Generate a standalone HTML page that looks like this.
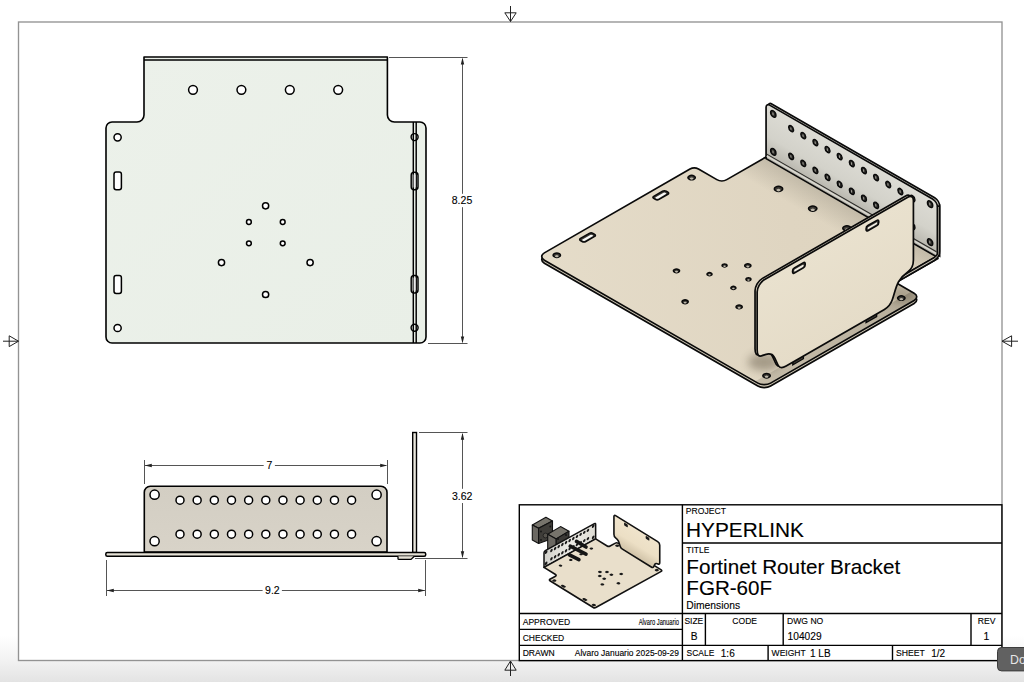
<!DOCTYPE html><html><head><meta charset="utf-8"><style>
html,body{margin:0;padding:0;width:1024px;height:682px;overflow:hidden;background:#fff}
svg{position:absolute;left:0;top:0;display:block}
text{font-family:"Liberation Sans",sans-serif;fill:#000;stroke:#000;stroke-width:0.12px}
.k{fill:none;stroke:#111;stroke-width:1.4;stroke-linejoin:round}
.ns{vector-effect:non-scaling-stroke}
</style></head><body>
<svg width="1024" height="682" viewBox="0 0 1024 682">
<defs>
<linearGradient id="bot" x1="0" y1="0" x2="0" y2="1"><stop offset="0" stop-color="#fff"/><stop offset="0.5" stop-color="#f3f3f3"/><stop offset="1" stop-color="#e3e3e3"/></linearGradient>
<linearGradient id="plan" x1="0" y1="0" x2="1" y2="1"><stop offset="0" stop-color="#ecf1ea"/><stop offset="1" stop-color="#e9efe7"/></linearGradient>
<linearGradient id="elev" x1="0" y1="0" x2="0" y2="1"><stop offset="0" stop-color="#d3cec3"/><stop offset="1" stop-color="#d8d3c8"/></linearGradient>
<linearGradient id="isob" x1="0" y1="1" x2="1" y2="0"><stop offset="0" stop-color="#e5dcc9"/><stop offset="0.6" stop-color="#dfd5c1"/><stop offset="1" stop-color="#ddd3be"/></linearGradient>
<linearGradient id="isof" x1="0" y1="1" x2="0" y2="0"><stop offset="0" stop-color="#c9c7bd"/><stop offset="0.35" stop-color="#dcdad2"/><stop offset="1" stop-color="#e6e5de"/></linearGradient>
<linearGradient id="isop" x1="0" y1="0" x2="1" y2="0"><stop offset="0" stop-color="#ece3d0"/><stop offset="1" stop-color="#eee5d3"/></linearGradient>
<filter id="blur" x="-50%" y="-50%" width="200%" height="200%"><feGaussianBlur stdDeviation="6"/></filter><filter id="blur3" x="-50%" y="-50%" width="200%" height="200%"><feGaussianBlur stdDeviation="3"/></filter>
<linearGradient id="tfl" x1="0" y1="0" x2="1" y2="0"><stop offset="0" stop-color="#d2d1cb"/><stop offset="0.5" stop-color="#ecebe6"/><stop offset="1" stop-color="#dedcd4"/></linearGradient>
<linearGradient id="tpn" gradientUnits="userSpaceOnUse" x1="0" y1="121" x2="0" y2="0"><stop offset="0" stop-color="#f0e4cc"/><stop offset="0.55" stop-color="#ecdfc5"/><stop offset="1" stop-color="#cfc1a6"/></linearGradient>
</defs>
<rect x="0" y="636" width="1024" height="46" fill="url(#bot)"/>
<rect x="18.5" y="22" width="983.5" height="638.5" fill="#fff"/>
<rect x="18.5" y="22" width="983.5" height="638.5" fill="none" stroke="#939393" stroke-width="1.35"/>
<g fill="none" stroke="#222" stroke-width="1">
<path d="M510.5,6 V21.5 M504.8,12.8 L516.2,12.8 L510.5,21.5 Z"/>
<path d="M3,341.2 H18.5 M9.2,335.8 V346.6 L18.5,341.2 Z"/>
<path d="M1018,341.2 H1002 M1011.6,335.8 V346.6 L1002,341.2 Z"/>
<path d="M510.5,676 V661 M504.8,670.2 L516.2,670.2 L510.5,661 Z"/>
</g>
<path d="M144,57 L387.4,57 L387.4,115 A7,7 0 0 0 394.4,122 L420,122 A6,6 0 0 1 426,128 L426,337 A6,6 0 0 1 420,343 L112,343 A6,6 0 0 1 106,337 L106,128 A6,6 0 0 1 112,122 L137,122 A7,7 0 0 0 144,115 Z" fill="url(#plan)" stroke="#000" stroke-width="1.6" stroke-linejoin="round"/>
<path d="M144,60 H387.4" stroke="#000" stroke-width="1.3"/>
<path d="M413.3,122 V343 M416.2,122 V343" stroke="#000" stroke-width="1.45"/>
<g fill="#fff" stroke="#000" stroke-width="1.5">
<circle cx="193" cy="89.8" r="4.4"/>
<circle cx="241.4" cy="89.8" r="4.4"/>
<circle cx="289.8" cy="89.8" r="4.4"/>
<circle cx="338.2" cy="89.8" r="4.4"/>
<circle cx="117.6" cy="137.3" r="3.6"/>
<circle cx="117.6" cy="328" r="3.6"/>
<circle cx="265.6" cy="205.8" r="3.1"/>
<circle cx="221.5" cy="262.6" r="3.1"/>
<circle cx="310.1" cy="262.6" r="3.1"/>
<circle cx="265.6" cy="294.5" r="3.1"/>
<circle cx="248.9" cy="222" r="2.4"/>
<circle cx="282.7" cy="222" r="2.4"/>
<circle cx="248.9" cy="243.3" r="2.4"/>
<circle cx="282.7" cy="243.3" r="2.4"/>
<rect x="114" y="172" width="7.4" height="17.8" rx="2.2"/>
<rect x="114" y="275.6" width="7.4" height="17.8" rx="2.2"/>
</g>
<g fill="none" stroke="#000" stroke-width="1.45">
<ellipse cx="414.6" cy="137.1" rx="3.5" ry="3.5"/>
<ellipse cx="414.6" cy="327.7" rx="3.5" ry="3.5"/>
<rect x="411.2" y="172.3" width="6.8" height="17.5" rx="3"/>
<rect x="411.2" y="275.4" width="6.8" height="17.5" rx="3"/>
</g>
<g fill="#ececec" stroke="none">
<rect x="413.6" y="174.5" width="2" height="13" />
<rect x="413.6" y="277.6" width="2" height="13" />
</g>
<g stroke="#555" stroke-width="1" fill="none">
<path d="M389,57.5 H467.5 M428,343.5 H467.5 M462.5,59 V193.8 M462.5,207.2 V341.5"/>
</g>
<path d="M462.5,57.5 L460.8,64.5 L464.2,64.5 Z M462.5,343.5 L460.8,336.5 L464.2,336.5 Z" fill="#222"/>
<text x="462" y="204" font-size="10.5" text-anchor="middle">8.25</text>
<path d="M144.3,552 L144.3,492.3 A6,6 0 0 1 150.3,486.3 L381,486.3 A6,6 0 0 1 387,492.3 L387,552 Z" fill="url(#elev)" stroke="#000" stroke-width="1.6" stroke-linejoin="round"/>
<g fill="#fff" stroke="#000" stroke-width="1.5">
<circle cx="180" cy="500.2" r="4"/>
<circle cx="180" cy="534.2" r="4"/>
<circle cx="197.16" cy="500.2" r="4"/>
<circle cx="197.16" cy="534.2" r="4"/>
<circle cx="214.32" cy="500.2" r="4"/>
<circle cx="214.32" cy="534.2" r="4"/>
<circle cx="231.48" cy="500.2" r="4"/>
<circle cx="231.48" cy="534.2" r="4"/>
<circle cx="248.64" cy="500.2" r="4"/>
<circle cx="248.64" cy="534.2" r="4"/>
<circle cx="265.8" cy="500.2" r="4"/>
<circle cx="265.8" cy="534.2" r="4"/>
<circle cx="282.96" cy="500.2" r="4"/>
<circle cx="282.96" cy="534.2" r="4"/>
<circle cx="300.12" cy="500.2" r="4"/>
<circle cx="300.12" cy="534.2" r="4"/>
<circle cx="317.28" cy="500.2" r="4"/>
<circle cx="317.28" cy="534.2" r="4"/>
<circle cx="334.44" cy="500.2" r="4"/>
<circle cx="334.44" cy="534.2" r="4"/>
<circle cx="351.6" cy="500.2" r="4"/>
<circle cx="351.6" cy="534.2" r="4"/>
<circle cx="154.6" cy="494.7" r="4.6"/>
<circle cx="154.6" cy="541.2" r="4.6"/>
<circle cx="376.6" cy="494.7" r="4.6"/>
<circle cx="376.6" cy="541.2" r="4.6"/>
</g>
<rect x="412.7" y="432.5" width="3.8" height="120" fill="#e9e6dc" stroke="#000" stroke-width="1.4"/>
<path d="M105.8,554.1 A1.5,1.5 0 0 1 107.3,552.6 L424.2,552.6 A1.5,1.5 0 0 1 425.7,554.1 L425.7,554.8 A1.5,1.5 0 0 1 424.2,556.3 L107.3,556.3 A1.5,1.5 0 0 1 105.8,554.8 Z" fill="#e6e2d6" stroke="#000" stroke-width="1.5"/>
<path d="M398,556.3 V558.8 Q398,559.4 399,559.4 H411 L414.4,556.3" fill="#e6e2d6" stroke="#000" stroke-width="1.3"/>
<g stroke="#555" stroke-width="1" fill="none">
<path d="M144.5,460 V484 M387.5,460 V484 M145,465.5 H263.7 M274.9,465.5 H386.3"/>
<path d="M106.5,560 V596 M425.5,560 V596 M106.5,590.5 H262.6 M281.9,590.5 H424.9"/>
<path d="M419,432.5 H467.5 M415,558.5 H467.5 M462.5,434 V488.8 M462.5,503 V557"/>
</g>
<path d="M144.8,465.5 L151.8,463.8 L151.8,467.2 Z M387.2,465.5 L380.2,463.8 L380.2,467.2 Z M106.8,590.5 L113.8,588.8 L113.8,592.2 Z M425.2,590.5 L418.2,588.8 L418.2,592.2 Z M462.5,432.7 L460.8,439.7 L464.2,439.7 Z M462.5,558.3 L460.8,551.3 L464.2,551.3 Z" fill="#222"/>
<text x="269.4" y="469.4" font-size="10.5" text-anchor="middle">7</text>
<text x="272.4" y="594.4" font-size="10.5" text-anchor="middle">9.2</text>
<text x="462.1" y="499.8" font-size="10.5" text-anchor="middle">3.62</text>
<defs>
<clipPath id="cpl"><path transform="matrix(0.70700,0.40700,-0.70700,0.40700,705.55000,73.80000)" d="M145,59.4 L387.5,59.4 L387.5,115 A7,7 0 0 0 394.5,122 L417,122 A9,9 0 0 1 426,131 L426,334 A9,9 0 0 1 417,343 L115,343 A9,9 0 0 1 106,334 L106,128 A6,6 0 0 1 112,122 L138,122 A7,7 0 0 0 145,115 Z"/></clipPath>
<linearGradient id="bend" gradientUnits="userSpaceOnUse" x1="0" y1="59.4" x2="0" y2="100"><stop offset="0" stop-color="#a9a292" stop-opacity="0.55"/><stop offset="1" stop-color="#a9a292" stop-opacity="0"/></linearGradient>
<linearGradient id="strip" gradientUnits="userSpaceOnUse" x1="0" y1="122" x2="0" y2="343"><stop offset="0" stop-color="#8e8675" stop-opacity="0.6"/><stop offset="0.2" stop-color="#8e8675" stop-opacity="0.45"/><stop offset="1" stop-color="#8e8675" stop-opacity="0.32"/></linearGradient>
<linearGradient id="flg" gradientUnits="userSpaceOnUse" x1="0" y1="66" x2="0" y2="0"><stop offset="0" stop-color="#dddcd5"/><stop offset="0.6" stop-color="#d3d2ca"/><stop offset="1" stop-color="#b6b4ab"/></linearGradient>
<linearGradient id="pnl" gradientUnits="userSpaceOnUse" x1="0" y1="121" x2="0" y2="0"><stop offset="0" stop-color="#e9e1ce"/><stop offset="1" stop-color="#e5dcc8"/></linearGradient>
<filter id="bl4" x="-50%" y="-50%" width="200%" height="200%"><feGaussianBlur stdDeviation="4"/></filter>
</defs>
<g transform="matrix(0.70700,0.40700,-0.70700,0.40700,705.55000,76.73940)"><path d="M145,59.4 L387.5,59.4 L387.5,115 A7,7 0 0 0 394.5,122 L417,122 A9,9 0 0 1 426,131 L426,334 A9,9 0 0 1 417,343 L115,343 A9,9 0 0 1 106,334 L106,128 A6,6 0 0 1 112,122 L138,122 A7,7 0 0 0 145,115 Z" class="ns" fill="#d4ccb9" stroke="#0a0a0a" stroke-width="1.7"/></g>
<g transform="matrix(0.70700,0.40700,-0.70700,0.40700,705.55000,73.80000)"><path d="M145,59.4 L387.5,59.4 L387.5,115 A7,7 0 0 0 394.5,122 L417,122 A9,9 0 0 1 426,131 L426,334 A9,9 0 0 1 417,343 L115,343 A9,9 0 0 1 106,334 L106,128 A6,6 0 0 1 112,122 L138,122 A7,7 0 0 0 145,115 Z" class="ns" fill="url(#isob)" stroke="none"/></g>
<g clip-path="url(#cpl)">
<g transform="matrix(0.70700,0.40700,-0.70700,0.40700,705.55000,73.80000)">
<rect x="140" y="59.4" width="260" height="45" fill="url(#bend)"/>
<rect x="413" y="118" width="16" height="230" fill="url(#strip)"/>
</g>
<ellipse cx="764" cy="362" rx="16" ry="9" fill="#5e5443" opacity="0.45" filter="url(#bl4)"/>
<ellipse cx="902" cy="294" rx="14" ry="9" fill="#5e5443" opacity="0.4" filter="url(#bl4)"/>
</g>
<g transform="matrix(0.70700,0.40700,-0.70700,0.40700,705.55000,73.80000)"><path d="M145,59.4 L387.5,59.4 L387.5,115 A7,7 0 0 0 394.5,122 L417,122 A9,9 0 0 1 426,131 L426,334 A9,9 0 0 1 417,343 L115,343 A9,9 0 0 1 106,334 L106,128 A6,6 0 0 1 112,122 L138,122 A7,7 0 0 0 145,115 Z" class="ns" fill="none" stroke="#0a0a0a" stroke-width="1.7"/>
<circle class="ns" cx="193" cy="89.8" r="4.2" fill="#3e3b36" stroke="#0a0a0a" stroke-width="1.5"/>
<circle cx="194.47" cy="91.27" r="2.1" fill="#bdb7aa"/>
<circle class="ns" cx="241.4" cy="89.8" r="4.2" fill="#3e3b36" stroke="#0a0a0a" stroke-width="1.5"/>
<circle cx="242.87" cy="91.27" r="2.1" fill="#bdb7aa"/>
<circle class="ns" cx="289.8" cy="89.8" r="4.2" fill="#3e3b36" stroke="#0a0a0a" stroke-width="1.5"/>
<circle cx="291.27" cy="91.27" r="2.1" fill="#bdb7aa"/>
<circle class="ns" cx="338.2" cy="89.8" r="4.2" fill="#3e3b36" stroke="#0a0a0a" stroke-width="1.5"/>
<circle cx="339.67" cy="91.27" r="2.1" fill="#bdb7aa"/>
<circle class="ns" cx="117.6" cy="137.3" r="3.7" fill="#3e3b36" stroke="#0a0a0a" stroke-width="1.5"/>
<circle cx="118.89" cy="138.59" r="1.85" fill="#bdb7aa"/>
<circle class="ns" cx="117.6" cy="328" r="3.7" fill="#3e3b36" stroke="#0a0a0a" stroke-width="1.5"/>
<circle cx="118.89" cy="329.3" r="1.85" fill="#bdb7aa"/>
<circle class="ns" cx="414" cy="137.1" r="3.7" fill="#3e3b36" stroke="#0a0a0a" stroke-width="1.5"/>
<circle cx="415.3" cy="138.39" r="1.85" fill="#bdb7aa"/>
<circle class="ns" cx="414" cy="327.7" r="3.7" fill="#3e3b36" stroke="#0a0a0a" stroke-width="1.5"/>
<circle cx="415.3" cy="329" r="1.85" fill="#bdb7aa"/>
<circle class="ns" cx="265.6" cy="205.8" r="3.1" fill="#3e3b36" stroke="#0a0a0a" stroke-width="1.5"/>
<circle cx="266.69" cy="206.89" r="1.55" fill="#bdb7aa"/>
<circle class="ns" cx="221.5" cy="262.6" r="3.1" fill="#3e3b36" stroke="#0a0a0a" stroke-width="1.5"/>
<circle cx="222.59" cy="263.69" r="1.55" fill="#bdb7aa"/>
<circle class="ns" cx="310.1" cy="262.6" r="3.1" fill="#3e3b36" stroke="#0a0a0a" stroke-width="1.5"/>
<circle cx="311.19" cy="263.69" r="1.55" fill="#bdb7aa"/>
<circle class="ns" cx="265.6" cy="294.5" r="3.1" fill="#3e3b36" stroke="#0a0a0a" stroke-width="1.5"/>
<circle cx="266.69" cy="295.58" r="1.55" fill="#bdb7aa"/>
<circle class="ns" cx="248.9" cy="222" r="2.5" fill="#3e3b36" stroke="#0a0a0a" stroke-width="1.5"/>
<circle cx="249.78" cy="222.88" r="1.25" fill="#bdb7aa"/>
<circle class="ns" cx="282.7" cy="222" r="2.5" fill="#3e3b36" stroke="#0a0a0a" stroke-width="1.5"/>
<circle cx="283.57" cy="222.88" r="1.25" fill="#bdb7aa"/>
<circle class="ns" cx="248.9" cy="243.3" r="2.5" fill="#3e3b36" stroke="#0a0a0a" stroke-width="1.5"/>
<circle cx="249.78" cy="244.18" r="1.25" fill="#bdb7aa"/>
<circle class="ns" cx="282.7" cy="243.3" r="2.5" fill="#3e3b36" stroke="#0a0a0a" stroke-width="1.5"/>
<circle cx="283.57" cy="244.18" r="1.25" fill="#bdb7aa"/>
<rect class="ns" x="113.8" y="172" width="7.6" height="17.8" rx="2.6" fill="#3c3a35" stroke="#0a0a0a" stroke-width="1.5"/>
<rect x="116.4" y="174.6" width="3.4" height="13.5" rx="1.2" fill="#fafaf8"/>
<rect class="ns" x="113.8" y="275.6" width="7.6" height="17.8" rx="2.6" fill="#3c3a35" stroke="#0a0a0a" stroke-width="1.5"/>
<rect x="116.4" y="278.2" width="3.4" height="13.5" rx="1.2" fill="#fafaf8"/>
</g>
<g transform="matrix(0.70700,0.40700,0.00000,-0.81650,665.67520,96.75480)"><path class="ns" d="M145,-2 L145,61 A5,5 0 0 0 150,66 L380.5,66 A7,7 0 0 0 387.5,59 L387.5,-2 Z" fill="#cfcdc4" stroke="#0a0a0a" stroke-width="1.7"/></g>
<g transform="matrix(0.70700,0.40700,0.00000,-0.81650,663.55420,97.97580)">
<path class="ns" d="M145,-2 L145,61 A5,5 0 0 0 150,66 L380.5,66 A7,7 0 0 0 387.5,59 L387.5,-2 Z" fill="url(#flg)" stroke="#0a0a0a" stroke-width="1.7"/>
<path class="ns" d="M146,4 H386" stroke="#2a2926" stroke-width="1.1" fill="none"/>
<path class="ns" d="M146,1.6 H386" stroke="#dcdad2" stroke-width="1.3" fill="none"/>
<circle class="ns" cx="180.5" cy="52.4" r="3.5" fill="#2a2926" stroke="#0a0a0a" stroke-width="1.4"/>
<ellipse cx="180.15" cy="52.23" rx="0.77" ry="1.75" fill="#a9a79f"/>
<circle class="ns" cx="180.5" cy="18.4" r="3.5" fill="#2a2926" stroke="#0a0a0a" stroke-width="1.4"/>
<ellipse cx="180.15" cy="18.22" rx="0.77" ry="1.75" fill="#a9a79f"/>
<circle class="ns" cx="197.66" cy="52.4" r="3.5" fill="#2a2926" stroke="#0a0a0a" stroke-width="1.4"/>
<ellipse cx="197.31" cy="52.23" rx="0.77" ry="1.75" fill="#a9a79f"/>
<circle class="ns" cx="197.66" cy="18.4" r="3.5" fill="#2a2926" stroke="#0a0a0a" stroke-width="1.4"/>
<ellipse cx="197.31" cy="18.22" rx="0.77" ry="1.75" fill="#a9a79f"/>
<circle class="ns" cx="214.82" cy="52.4" r="3.5" fill="#2a2926" stroke="#0a0a0a" stroke-width="1.4"/>
<ellipse cx="214.47" cy="52.23" rx="0.77" ry="1.75" fill="#a9a79f"/>
<circle class="ns" cx="214.82" cy="18.4" r="3.5" fill="#2a2926" stroke="#0a0a0a" stroke-width="1.4"/>
<ellipse cx="214.47" cy="18.22" rx="0.77" ry="1.75" fill="#a9a79f"/>
<circle class="ns" cx="231.98" cy="52.4" r="3.5" fill="#2a2926" stroke="#0a0a0a" stroke-width="1.4"/>
<ellipse cx="231.63" cy="52.23" rx="0.77" ry="1.75" fill="#a9a79f"/>
<circle class="ns" cx="231.98" cy="18.4" r="3.5" fill="#2a2926" stroke="#0a0a0a" stroke-width="1.4"/>
<ellipse cx="231.63" cy="18.22" rx="0.77" ry="1.75" fill="#a9a79f"/>
<circle class="ns" cx="249.14" cy="52.4" r="3.5" fill="#2a2926" stroke="#0a0a0a" stroke-width="1.4"/>
<ellipse cx="248.79" cy="52.23" rx="0.77" ry="1.75" fill="#a9a79f"/>
<circle class="ns" cx="249.14" cy="18.4" r="3.5" fill="#2a2926" stroke="#0a0a0a" stroke-width="1.4"/>
<ellipse cx="248.79" cy="18.22" rx="0.77" ry="1.75" fill="#a9a79f"/>
<circle class="ns" cx="266.3" cy="52.4" r="3.5" fill="#2a2926" stroke="#0a0a0a" stroke-width="1.4"/>
<ellipse cx="265.95" cy="52.23" rx="0.77" ry="1.75" fill="#a9a79f"/>
<circle class="ns" cx="266.3" cy="18.4" r="3.5" fill="#2a2926" stroke="#0a0a0a" stroke-width="1.4"/>
<ellipse cx="265.95" cy="18.22" rx="0.77" ry="1.75" fill="#a9a79f"/>
<circle class="ns" cx="283.46" cy="52.4" r="3.5" fill="#2a2926" stroke="#0a0a0a" stroke-width="1.4"/>
<ellipse cx="283.11" cy="52.23" rx="0.77" ry="1.75" fill="#a9a79f"/>
<circle class="ns" cx="283.46" cy="18.4" r="3.5" fill="#2a2926" stroke="#0a0a0a" stroke-width="1.4"/>
<ellipse cx="283.11" cy="18.22" rx="0.77" ry="1.75" fill="#a9a79f"/>
<circle class="ns" cx="300.62" cy="52.4" r="3.5" fill="#2a2926" stroke="#0a0a0a" stroke-width="1.4"/>
<ellipse cx="300.27" cy="52.23" rx="0.77" ry="1.75" fill="#a9a79f"/>
<circle class="ns" cx="300.62" cy="18.4" r="3.5" fill="#2a2926" stroke="#0a0a0a" stroke-width="1.4"/>
<ellipse cx="300.27" cy="18.22" rx="0.77" ry="1.75" fill="#a9a79f"/>
<circle class="ns" cx="317.78" cy="52.4" r="3.5" fill="#2a2926" stroke="#0a0a0a" stroke-width="1.4"/>
<ellipse cx="317.43" cy="52.23" rx="0.77" ry="1.75" fill="#a9a79f"/>
<circle class="ns" cx="317.78" cy="18.4" r="3.5" fill="#2a2926" stroke="#0a0a0a" stroke-width="1.4"/>
<ellipse cx="317.43" cy="18.22" rx="0.77" ry="1.75" fill="#a9a79f"/>
<circle class="ns" cx="334.94" cy="52.4" r="3.5" fill="#2a2926" stroke="#0a0a0a" stroke-width="1.4"/>
<ellipse cx="334.59" cy="52.23" rx="0.77" ry="1.75" fill="#a9a79f"/>
<circle class="ns" cx="334.94" cy="18.4" r="3.5" fill="#2a2926" stroke="#0a0a0a" stroke-width="1.4"/>
<ellipse cx="334.59" cy="18.22" rx="0.77" ry="1.75" fill="#a9a79f"/>
<circle class="ns" cx="352.1" cy="52.4" r="3.5" fill="#2a2926" stroke="#0a0a0a" stroke-width="1.4"/>
<ellipse cx="351.75" cy="52.23" rx="0.77" ry="1.75" fill="#a9a79f"/>
<circle class="ns" cx="352.1" cy="18.4" r="3.5" fill="#2a2926" stroke="#0a0a0a" stroke-width="1.4"/>
<ellipse cx="351.75" cy="18.22" rx="0.77" ry="1.75" fill="#a9a79f"/>
<circle class="ns" cx="155.2" cy="57.9" r="3.8" fill="#2a2926" stroke="#0a0a0a" stroke-width="1.4"/>
<ellipse cx="154.82" cy="57.71" rx="0.84" ry="1.9" fill="#a9a79f"/>
<circle class="ns" cx="155.2" cy="11.4" r="3.8" fill="#2a2926" stroke="#0a0a0a" stroke-width="1.4"/>
<ellipse cx="154.82" cy="11.21" rx="0.84" ry="1.9" fill="#a9a79f"/>
<circle class="ns" cx="377" cy="57.9" r="3.8" fill="#2a2926" stroke="#0a0a0a" stroke-width="1.4"/>
<ellipse cx="376.62" cy="57.71" rx="0.84" ry="1.9" fill="#a9a79f"/>
<circle class="ns" cx="377" cy="11.4" r="3.8" fill="#2a2926" stroke="#0a0a0a" stroke-width="1.4"/>
<ellipse cx="376.62" cy="11.21" rx="0.84" ry="1.9" fill="#a9a79f"/>
</g>
<g transform="matrix(-0.70700,0.40700,0.00000,-0.81650,979.51250,231.51250)"><path class="ns" d="M56.4,60 L56.4,4 Q56.4,-3.6 64,-3.6 L118,-3.6 L118,0 L64,0 Q59.4,0 59.4,4 L59.4,60 Z" fill="#cfcabd" stroke="#0a0a0a" stroke-width="1.5"/></g>
<g transform="matrix(-0.70700,0.40700,0.00000,-0.81650,997.54100,241.89100)"><path class="ns" d="M343,111 A10,10 0 0 1 333,121 L130,121 A8,8 0 0 1 122,113 L122,40 C122,34 124,30 130,29.5 C135,29 139,28 143,24 C147,20 149,12 152,6 C154,2 157,0 163,0 L302,0 C308,0 311,2 313,6 C316,12 318,20 322,24 C326,28 330,29 335,29.5 C341,30 343,34 343,40 Z" fill="#d9d1bf" stroke="#0a0a0a" stroke-width="1.7"/></g>
<g transform="matrix(-0.70700,0.40700,0.00000,-0.81650,999.66200,243.11200)">
<path class="ns" d="M174,0.5 L174,-3.2 L189,-3.2 L189,0.5 M277.6,0.5 L277.6,-3.2 L292.6,-3.2 L292.6,0.5" fill="#4a463e" stroke="#0a0a0a" stroke-width="1.3"/>
<path class="ns" d="M343,111 A10,10 0 0 1 333,121 L130,121 A8,8 0 0 1 122,113 L122,40 C122,34 124,30 130,29.5 C135,29 139,28 143,24 C147,20 149,12 152,6 C154,2 157,0 163,0 L302,0 C308,0 311,2 313,6 C316,12 318,20 322,24 C326,28 330,29 335,29.5 C341,30 343,34 343,40 Z" fill="url(#pnl)" stroke="#0a0a0a" stroke-width="1.7"/>
<rect class="ns" x="171" y="108" width="18" height="6.5" rx="2.6" fill="#35332f" stroke="#0a0a0a" stroke-width="1.5"/>
<rect x="173.2" y="109.6" width="13.5" height="2.6" rx="1.2" fill="#f2eee4"/>
<rect class="ns" x="275" y="108" width="18" height="6.5" rx="2.6" fill="#35332f" stroke="#0a0a0a" stroke-width="1.5"/>
<rect x="277.2" y="109.6" width="13.5" height="2.6" rx="1.2" fill="#f2eee4"/>
</g>
<g fill="none" stroke="#000" stroke-width="1.4">
<rect x="519.3" y="504.8" width="482.6" height="155.8" fill="#fff"/>
<path d="M682.4,504.8 V660.6 M682.4,543 H1001.9 M519.3,613.5 H1001.9 M519.3,629.4 H682.4 M519.3,645.4 H1001.9 M705.4,613.5 V645.4 M783.2,613.5 V645.4 M971,613.5 V645.4 M768.1,645.4 V660.6 M892.5,645.4 V660.6"/>
</g>
<text x="685.8" y="514" font-size="8.6">PROJECT</text>
<text x="686" y="537.2" font-size="20.8">HYPERLINK</text>
<text x="686.3" y="552.7" font-size="8.5">TITLE</text>
<text x="686.3" y="573.7" font-size="20.7">Fortinet Router Bracket</text>
<text x="686.3" y="594.6" font-size="20.6">FGR-60F</text>
<text x="686.3" y="608.5" font-size="10.3">Dimensions</text>
<text x="522.7" y="625" font-size="8.55">APPROVED</text>
<text x="679" y="625" font-size="8.55" text-anchor="end" transform="translate(679,0) scale(0.68,1) translate(-679,0)">Alvaro Januario</text>
<text x="522.7" y="640.6" font-size="8.5">CHECKED</text>
<text x="522.7" y="656.2" font-size="8.55">DRAWN</text>
<text x="679" y="656.2" font-size="8.45" text-anchor="end">Alvaro Januario 2025-09-29</text>
<text x="684.4" y="623.5" font-size="8.5">SIZE</text>
<text x="694.2" y="640.3" font-size="10.2" text-anchor="middle">B</text>
<text x="744.7" y="623.5" font-size="8.55" text-anchor="middle">CODE</text>
<text x="787" y="623.5" font-size="8.6">DWG NO</text>
<text x="787.6" y="640.3" font-size="10.2">104029</text>
<text x="986.6" y="623.5" font-size="8.65" text-anchor="middle">REV</text>
<text x="986.4" y="640.3" font-size="10.4" text-anchor="middle">1</text>
<text x="686.6" y="656.3" font-size="8.45">SCALE</text>
<text x="720.8" y="657.4" font-size="10">1:6</text>
<text x="771.6" y="656.3" font-size="8.53">WEIGHT</text>
<text x="810" y="657.4" font-size="10">1 LB</text>
<text x="895.9" y="656.3" font-size="8.67">SHEET</text>
<text x="931.2" y="657.4" font-size="10">1/2</text>
<g stroke-linejoin="round">
<path d="M532.3,525 L545.9,517.3 L552.5,521 L538.6,528.3 Z" fill="#77746c" stroke="#111" stroke-width="1.1" stroke-linejoin="round"/>
<path d="M532.3,525 L538.6,528.3 L538.6,543.4 L532.3,540.1 Z" fill="#6b6862" stroke="#111" stroke-width="1.1" stroke-linejoin="round"/>
<path d="M538.6,528.3 L552.5,521 L552.5,538.6 L538.6,543.4 Z" fill="#3f3d39" stroke="#111" stroke-width="1.1" stroke-linejoin="round"/>
<circle cx="545.5" cy="535.5" r="2.4" fill="#55524c" stroke="#1a1a1a" stroke-width="0.8"/>
<circle cx="541" cy="531.5" r="0.9" fill="#151515"/>
<circle cx="550.3" cy="526.5" r="0.9" fill="#151515"/>
<circle cx="541" cy="540" r="0.9" fill="#151515"/>
<circle cx="550.3" cy="535" r="0.9" fill="#151515"/>
<path d="M547.7,534.2 L560.5,526.6 L569,531.3 L556.2,538.9 Z" fill="#77746c" stroke="#111" stroke-width="1.1" stroke-linejoin="round"/>
<path d="M547.7,534.2 L556.2,538.9 L556.2,548.4 L547.7,550 Z" fill="#6b6862" stroke="#111" stroke-width="1.1" stroke-linejoin="round"/>
<path d="M556.2,538.9 L569,531.3 L569,540.6 L556.2,548.4 Z" fill="#3a3835" stroke="#111" stroke-width="1.1" stroke-linejoin="round"/>
<circle cx="558" cy="539" r="1" fill="#151515"/>
<circle cx="566" cy="535" r="1" fill="#151515"/>
<g transform="matrix(0.21250,-0.11750,0.00000,-0.24200,513.19362,584.42320)"><path class="ns" d="M145,0 L145,60 A6,6 0 0 0 151,66 L382,66 A6,6 0 0 0 388,60 L388,0 Z" fill="url(#tfl)" stroke="#111" stroke-width="1.5"/>
<circle cx="180" cy="52.6" r="6" fill="#1a1a1a"/>
<circle cx="180" cy="18.6" r="6" fill="#1a1a1a"/>
<circle cx="197.16" cy="52.6" r="6" fill="#1a1a1a"/>
<circle cx="197.16" cy="18.6" r="6" fill="#1a1a1a"/>
<circle cx="214.32" cy="52.6" r="6" fill="#1a1a1a"/>
<circle cx="214.32" cy="18.6" r="6" fill="#1a1a1a"/>
<circle cx="231.48" cy="52.6" r="6" fill="#1a1a1a"/>
<circle cx="231.48" cy="18.6" r="6" fill="#1a1a1a"/>
<circle cx="248.64" cy="52.6" r="6" fill="#1a1a1a"/>
<circle cx="248.64" cy="18.6" r="6" fill="#1a1a1a"/>
<circle cx="265.8" cy="52.6" r="6" fill="#1a1a1a"/>
<circle cx="265.8" cy="18.6" r="6" fill="#1a1a1a"/>
<circle cx="282.96" cy="52.6" r="6" fill="#1a1a1a"/>
<circle cx="282.96" cy="18.6" r="6" fill="#1a1a1a"/>
<circle cx="300.12" cy="52.6" r="6" fill="#1a1a1a"/>
<circle cx="300.12" cy="18.6" r="6" fill="#1a1a1a"/>
<circle cx="317.28" cy="52.6" r="6" fill="#1a1a1a"/>
<circle cx="317.28" cy="18.6" r="6" fill="#1a1a1a"/>
<circle cx="334.44" cy="52.6" r="6" fill="#1a1a1a"/>
<circle cx="334.44" cy="18.6" r="6" fill="#1a1a1a"/>
<circle cx="351.6" cy="52.6" r="6" fill="#1a1a1a"/>
<circle cx="351.6" cy="18.6" r="6" fill="#1a1a1a"/>
<circle cx="154.8" cy="58.1" r="6.5" fill="#1a1a1a"/>
<circle cx="154.8" cy="11.6" r="6.5" fill="#1a1a1a"/>
<circle cx="376.6" cy="58.1" r="6.5" fill="#1a1a1a"/>
<circle cx="376.6" cy="11.6" r="6.5" fill="#1a1a1a"/>
</g>
<g transform="matrix(0.21250,-0.11750,0.20730,0.12800,500.88000,576.82000)"><path class="ns" d="M145,59.4 L388,59.4 L388,115 A7,7 0 0 0 395,122 L420,122 A6,6 0 0 1 426,128 L426,337 A6,6 0 0 1 420,343 L112,343 A6,6 0 0 1 106,337 L106,128 A6,6 0 0 1 112,122 L138,122 A7,7 0 0 0 145,115 Z" fill="#e9dfcb" stroke="#111" stroke-width="1.6"/>
<circle cx="193" cy="89.8" r="6" fill="#1a1a1a"/>
<circle cx="241.4" cy="89.8" r="6" fill="#1a1a1a"/>
<circle cx="289.8" cy="89.8" r="6" fill="#1a1a1a"/>
<circle cx="338.2" cy="89.8" r="6" fill="#1a1a1a"/>
<circle cx="117.6" cy="137.3" r="7" fill="#1a1a1a"/>
<circle cx="117.6" cy="328" r="7" fill="#1a1a1a"/>
<circle cx="414" cy="137.1" r="7" fill="#1a1a1a"/>
<circle cx="414" cy="327.7" r="7" fill="#1a1a1a"/>
<circle cx="265.6" cy="205.8" r="6.5" fill="#1a1a1a"/>
<circle cx="221.5" cy="262.6" r="6.5" fill="#1a1a1a"/>
<circle cx="310.1" cy="262.6" r="6.5" fill="#1a1a1a"/>
<circle cx="265.6" cy="294.5" r="6.5" fill="#1a1a1a"/>
<circle cx="248.9" cy="222" r="6.5" fill="#1a1a1a"/>
<circle cx="282.7" cy="222" r="6.5" fill="#1a1a1a"/>
<circle cx="248.9" cy="243.3" r="6.5" fill="#1a1a1a"/>
<circle cx="282.7" cy="243.3" r="6.5" fill="#1a1a1a"/>
<rect x="112" y="172" width="11" height="18" rx="4" fill="#1a1a1a"/>
<rect x="112" y="275.6" width="11" height="18" rx="4" fill="#1a1a1a"/>
</g>
<path d="M576.5,541.4 L586,547" stroke="#151515" stroke-width="3.6" stroke-linecap="round"/>
<path d="M570.2,546.2 L586,554.1" stroke="#151515" stroke-width="3.6" stroke-linecap="round"/>
<path d="M569.4,554.9 L578.9,559.7" stroke="#151515" stroke-width="3.6" stroke-linecap="round"/>
<g transform="matrix(0.20730,0.12800,0.00000,-0.24200,588.64250,528.29250)"><path class="ns" d="M343,111 A10,10 0 0 1 333,121 L130,121 A8,8 0 0 1 122,113 L122,40 C122,34 124,30 130,29.5 C135,29 139,28 143,24 C147,20 149,12 152,6 C154,2 157,0 163,0 L302,0 C308,0 311,2 313,6 C316,12 318,20 322,24 C326,28 330,29 335,29.5 C341,30 343,34 343,40 Z" fill="url(#tpn)" stroke="#111" stroke-width="1.6"/>
<rect x="171" y="103" width="18" height="12" rx="3" fill="#1a1a1a"/>
<rect x="275" y="103" width="18" height="12" rx="3" fill="#1a1a1a"/>
</g>
</g>
<rect x="997.5" y="647.5" width="40" height="23.4" rx="4" fill="#616161" stroke="#3c3c3c" stroke-width="1"/>
<text x="1010" y="663.7" font-size="12.3" style="fill:#e6e6e6;stroke:none">Do</text>
</svg></body></html>
